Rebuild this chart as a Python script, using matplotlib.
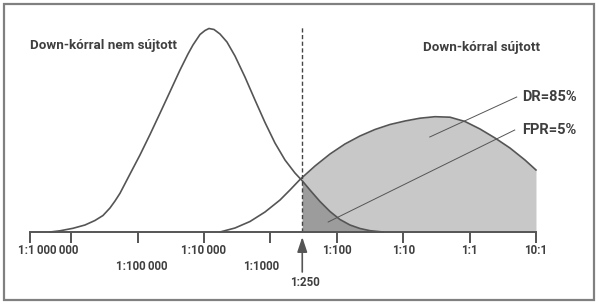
import numpy as np
import matplotlib
matplotlib.use('Agg')
import matplotlib.pyplot as plt
from matplotlib.patches import Rectangle

# x in log10 of the risk ratio, y = curve height (arbitrary units)
unaff_x = [-6.319, -6.169, -5.973, -5.792, -5.642, -5.521, -5.416, -5.340, -5.265, -5.114,
           -4.964, -4.813, -4.663, -4.512, -4.361, -4.241, -4.166, -4.060, -3.985, -3.925,
           -3.849, -3.759, -3.654, -3.533, -3.383, -3.232, -3.081, -2.931, -2.780, -2.630,
           -2.524, -2.404, -2.253, -2.102, -1.952, -1.801, -1.651, -1.500, -1.304]
unaff_y = [0, 1.2, 3.7, 7, 11.5, 16.5, 24, 31, 38.7, 58,
           77, 97.5, 118.7, 140.3, 162, 178, 187, 197.5, 201.5, 203.5,
           202.5, 198, 190, 176, 155, 132, 109.5, 89, 72, 59,
           51.5, 42, 30.5, 20.5, 12.5, 7, 3.5, 1.3, 0]

aff_x = [-3.759, -3.533, -3.307, -3.081, -2.855, -2.705, -2.554, -2.328, -2.102, -1.877,
         -1.651, -1.425, -1.199, -0.973, -0.747, -0.521, -0.295, -0.069, 0.157, 0.383,
         0.608, 0.834, 1.0]
aff_y = [0, 4, 10.5, 20, 32, 42, 52.5, 66, 78, 88,
         96, 102.5, 107.5, 111, 113.8, 115.3, 114.8, 110.5, 103, 94,
         84, 72, 62]

cutoff = -2.52          # where the 1:250 line sits in the picture
axis_start = -6.62
tick_vals = [-6, -5, -4, -3, -2, -1, 0, 1]
tick_labels = ['1:1\u2009000\u2009000', '1:100\u2009000', '1:10\u2009000', '1:1000',
               '1:100', '1:10', '1:1', '10:1']
tick_row = [0, 1, 0, 1, 0, 0, 0, 0]
cutoff_label = '1:250'

ink = '#555555'
txt = '#3f3f3f'
plt.rcParams['font.family'] = ['Roboto', 'DejaVu Sans']

fig = plt.figure(figsize=(6, 3.05), dpi=100)
ax = fig.add_axes([0, 0, 1, 1])
ax.set_xlim(-7.072, 1.964)
ax.set_ylim(-73, 232)
ax.axis('off')

ux = np.array(unaff_x)
uy = np.array(unaff_y)
axx = np.array(aff_x)
ayy = np.array(aff_y)

# shaded areas right of the cut-off
m = axx > cutoff
ax.fill_between(np.r_[cutoff, axx[m]], 0, np.r_[np.interp(cutoff, axx, ayy), ayy[m]],
                color='#c8c8c8', lw=0)
m = ux > cutoff
ax.fill_between(np.r_[cutoff, ux[m]], 0, np.r_[np.interp(cutoff, ux, uy), uy[m]],
                color='#9c9c9c', lw=0)

ax.plot(ux, uy, color=ink, lw=1.2, solid_joinstyle='round')
ax.plot(axx, ayy, color=ink, lw=1.2, solid_joinstyle='round')

# dashed cut-off line
ax.plot([cutoff, cutoff], [0, 205], color='#444444', lw=1.0, ls=(0, (3, 1.8)))

# x axis with ticks
ax.plot([axis_start, 1.0], [0, 0], color=ink, lw=1.4)
ax.vlines([axis_start] + tick_vals, -11, 0, color=ink, lw=1.4)
nudge = {0: -23, 1: 4, 3: -9}
for i, (v, lab, r) in enumerate(zip(tick_vals, tick_labels, tick_row)):
    ax.annotate(lab, (v, -19 - 15 * r), xytext=(nudge.get(i, 0) * 0.72, 0),
                textcoords='offset points', ha='center', va='center',
                fontsize=8.3, fontweight='bold', color=txt)

ax.annotate('', xy=(cutoff, -5), xytext=(cutoff, -40),
            arrowprops=dict(arrowstyle='-|>,head_length=0.9,head_width=0.3',
                            color=ink, lw=1.2, shrinkA=0, shrinkB=0))
ax.text(cutoff + 0.04, -50, cutoff_label, ha='center', va='center',
        fontsize=8.3, fontweight='bold', color=txt)

# labels
ax.text(-6.62, 187, 'Down-kórral nem sújtott', ha='left', va='center',
        fontsize=9.6, fontweight='bold', color=txt)
ax.text(1.06, 184, 'Down-kórral sújtott', ha='right', va='center',
        fontsize=9.6, fontweight='bold', color=txt)
ax.text(0.79, 135, 'DR=85%', ha='left', va='center',
        fontsize=10.5, fontweight='bold', color=txt)
ax.text(0.79, 102, 'FPR=5%', ha='left', va='center',
        fontsize=10.5, fontweight='bold', color=txt)
ax.plot([0.71, -0.60], [135, 95], color=ink, lw=0.7)
ax.plot([0.68, -2.13], [102, 10], color=ink, lw=0.7)

fig.patches.append(Rectangle((4 / 600, 5 / 305), 590 / 600, 296 / 305,
                             transform=fig.transFigure, fill=False,
                             edgecolor='#808080', lw=1.6))

fig.savefig('out.png', dpi=100)
